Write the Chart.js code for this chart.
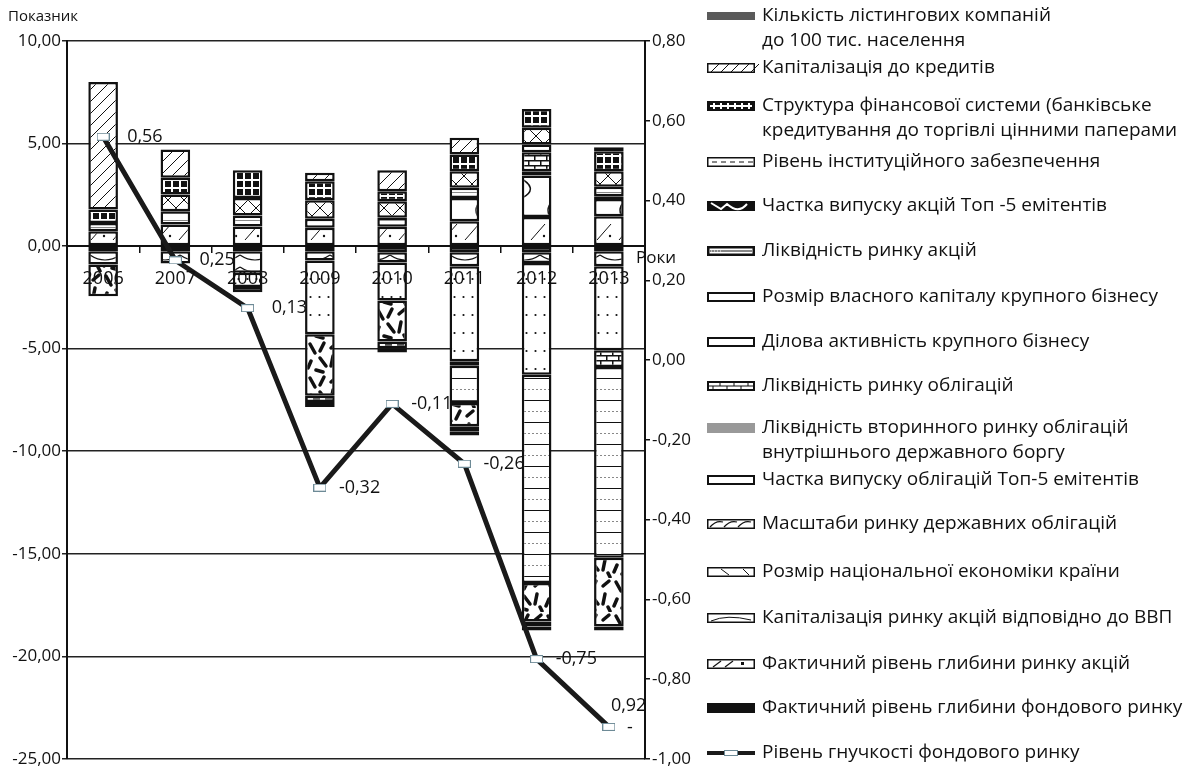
<!DOCTYPE html>
<html>
<head>
<meta charset="utf-8">
<script src="https://cdn.jsdelivr.net/npm/chart.js@4.4.1/dist/chart.umd.min.js"></script>
<style>
  html, body { margin: 0; padding: 0; background: #fff; }
  canvas { display: block; }
</style>
</head>
<body>
<canvas id="chart" width="1188" height="771"></canvas>
<script>
// ---- data: years and indicator values (left axis), flexibility (right axis) ----
const years = ['2006', '2007', '2008', '2009', '2010', '2011', '2012', '2013'];

const listingPer100k    = [0, 0, -0.25, -0.25, -0.21, -0.21, -0.19, -0.19];
const capToCredit       = [6.22, 1.38, 0, 0.41, 1.03, 0.82, 0, 0.20];
const finStructure      = [0.65, 0.82, 1.35, 0.93, 0.48, 0.81, 0.92, 0.97];
const institutional     = [0, 0, 0, -0.30, -0.33, -0.24, -0.25, 0];
const top5SharesIssue   = [-1.55, 0, 0, -3.00, -2.00, -1.14, -1.87, -3.35];
const shareLiquidity    = [0, 0, 0, 0, 0, -1.82, -10.16, -9.31];
const bigBizEquity      = [0, 0.81, 0.86, 0.90, 0.81, 0.81, 0.82, 0.76];
const bigBizActivity    = [0.41, 0.65, 0.54, 0.44, 0.44, 0.49, 0.37, 0.46];
const bondLiquidity     = [0, 0, 0, 0, 0, 0, 0.93, -0.81];
const govBondSecondary  = [0, 0, 0, 0, 0, -0.21, 0.21, 0.13];
const top5BondsIssue    = [0, 0, -0.70, -3.60, -1.85, -4.64, -5.45, -4.10];
const govBondScale      = [0, 0, 0, 0, 0, 1.14, 2.02, 0.85];
const economySize       = [0, 0, 0, 0, 0, 0, 0, 0];
const capToGdp          = [-0.65, -0.60, -1.05, -0.45, -0.50, -0.68, -0.52, -0.73];
const shareDepth        = [0.72, 1.05, 0.95, 0.89, 0.94, 1.21, 1.42, 1.45];
const marketDepth       = [-0.25, -0.25, -0.25, -0.25, -0.30, -0.30, -0.30, -0.25];
const flexibility       = [0.56, 0.25, 0.13, -0.32, -0.11, -0.26, -0.75, -0.92];

const leftAxis  = { min: -25, max: 10, step: 5 };
const rightAxis = { min: -1, max: 0.8, step: 0.2 };

// ---- look ----
const FONT = '"Open Sans", "Noto Sans", sans-serif';
const INK = '#111';
const fmt = v => (Math.abs(v) < 1e-9 ? 0 : v).toFixed(2).replace('.', ',');

function line(g, x1, y1, x2, y2) { g.beginPath(); g.moveTo(x1, y1); g.lineTo(x2, y2); g.stroke(); }
function dot(g, x, y, r) { g.beginPath(); g.arc(x, y, r, 0, Math.PI * 2); g.fill(); }

// repeating fill tiles for the bar segments
function tile(w, h, paint) {
  const c = document.createElement('canvas');
  c.width = w; c.height = h;
  const g = c.getContext('2d');
  g.fillStyle = '#fff'; g.fillRect(0, 0, w, h);
  g.strokeStyle = INK; g.fillStyle = INK;
  paint(g, w, h);
  return g.createPattern(c, 'repeat');
}

const FILL = {
  darkGray: '#3c3c3c',
  black: '#111',
  white: '#fff',
  hatch: tile(12, 12, g => { g.lineWidth = 1; line(g, -1, 13, 13, -1); line(g, -1, 1, 1, -1); line(g, 11, 13, 13, 11); }),
  grid: tile(8, 8, g => { g.fillRect(0, 0, 8, 8); g.fillStyle = '#fff'; g.fillRect(0, 3, 8, 2); g.fillRect(3, 0, 2, 8); }),
  dashes: tile(12, 6, g => { g.lineWidth = 1.5; line(g, 1, 3, 8, 3); }),
  confetti: tile(34, 34, g => {
    g.lineWidth = 3.5; g.lineCap = 'round';
    [[4, 4, 9, 13], [18, 3, 14, 11], [25, 8, 31, 3], [5, 21, 2, 28], [14, 18, 20, 26],
     [27, 16, 25, 26], [10, 30, 17, 32], [30, 29, 32, 33]].forEach(s => line(g, ...s));
  }),
  rules: tile(24, 22, g => {
    g.lineWidth = 1; line(g, 0, 4.5, 24, 4.5);
    g.strokeStyle = '#888'; g.setLineDash([2, 2]); line(g, 0, 15.5, 24, 15.5);
  }),
  xhatch: tile(16, 16, g => { g.lineWidth = 1; line(g, 0, 0, 16, 16); line(g, 16, 0, 0, 16); }),
  thinRule: tile(4, 7, g => { g.strokeStyle = '#888'; g.lineWidth = 1; line(g, 0, 3.5, 4, 3.5); }),
  brick: tile(12, 10, g => {
    g.lineWidth = 1.5; line(g, 0, 0.75, 12, 0.75); line(g, 0, 5.75, 12, 5.75);
    line(g, 0.75, 0, 0.75, 5); line(g, 6.75, 5, 6.75, 10);
  }),
  dots: tile(9, 18, g => dot(g, 4.5, 9, 1.1)),
  wave: tile(36, 44, g => {
    g.lineWidth = 1.5; g.beginPath(); g.moveTo(12, 0);
    g.bezierCurveTo(30, 8, 30, 16, 18, 22); g.bezierCurveTo(6, 28, 6, 36, 12, 44); g.stroke();
  }),
  sparseDiag: tile(16, 16, g => { g.lineWidth = 1; line(g, 0, 0, 16, 16); }),
  curves: tile(30, 12, g => {
    g.lineWidth = 1.2; g.beginPath(); g.moveTo(0, 3); g.quadraticCurveTo(15, 13, 30, 3); g.stroke();
  }),
  diagDot: tile(22, 22, g => { g.lineWidth = 1; line(g, 3, 20, 17, 4); dot(g, 16, 16, 1.2); })
};

// ---- legend swatches ----
function box(g, x, y, w, h, lw) {
  g.fillStyle = '#fff'; g.fillRect(x, y, w, h);
  g.lineWidth = lw; g.strokeStyle = INK; g.strokeRect(x + lw / 2, y + lw / 2, w - lw, h - lw);
}
const ICON = {
  solidGray: (g, x, y, w, h) => { g.fillStyle = '#5a5a5a'; g.fillRect(x, y + 1, w, h - 2); },
  solidBlack: (g, x, y, w, h) => { g.fillStyle = INK; g.fillRect(x, y, w, h); },
  solidLight: (g, x, y, w, h) => { g.fillStyle = '#999'; g.fillRect(x, y, w, h); },
  hatch: (g, x, y, w, h) => {
    box(g, x, y, w, h, 1.5); g.lineWidth = 1;
    for (let i = 4; i < w; i += 10) line(g, x + i, y + h - 1, x + i + h - 2, y + 1);
  },
  plus: (g, x, y, w, h) => {
    g.fillStyle = INK; g.fillRect(x, y, w, h); g.fillStyle = '#fff';
    g.fillRect(x + 3, y + h / 2 - 1, w - 6, 2);
    for (let i = 6; i < w - 2; i += 7) g.fillRect(x + i, y + 2, 2, h - 4);
  },
  dashes: (g, x, y, w, h) => {
    box(g, x, y, w, h, 1.5); g.lineWidth = 1;
    for (let i = 5; i < w - 6; i += 9) line(g, x + i, y + h / 2, x + i + 5, y + h / 2);
  },
  blackWave: (g, x, y, w, h) => {
    g.fillStyle = INK; g.fillRect(x, y, w, h); g.strokeStyle = '#fff'; g.lineWidth = 2;
    g.beginPath(); g.moveTo(x + 4, y + 2); g.lineTo(x + 14, y + h - 2); g.lineTo(x + 20, y + 3);
    g.bezierCurveTo(x + 28, y + h, x + 34, y + h, x + 40, y + 3); g.stroke();
  },
  rules: (g, x, y, w, h) => {
    box(g, x, y, w, h, 2.5); g.lineWidth = 1; line(g, x + 3, y + h / 2, x + w - 3, y + h / 2);
    g.strokeStyle = '#fff'; g.setLineDash([1, 2]); line(g, x + 4, y + h / 2, x + 16, y + h / 2); g.setLineDash([]);
  },
  plain: (g, x, y, w, h) => box(g, x, y, w, h, 2),
  brick: (g, x, y, w, h) => {
    box(g, x, y, w, h, 2); g.lineWidth = 1; line(g, x + 2, y + h / 2, x + w - 2, y + h / 2);
    for (let i = 6; i < w - 2; i += 7) line(g, x + i, y + (i % 2 ? 2 : h / 2), x + i, y + (i % 2 ? h / 2 : h - 2));
  },
  waves: (g, x, y, w, h) => {
    box(g, x, y, w, h, 1.5); g.lineWidth = 1.2;
    for (let i = 3; i < w - 8; i += 14) {
      g.beginPath(); g.moveTo(x + i, y + h - 2); g.quadraticCurveTo(x + i + 6, y + 1, x + i + 13, y + 3); g.stroke();
    }
  },
  backslash: (g, x, y, w, h) => {
    box(g, x, y, w, h, 1.5); g.lineWidth = 1;
    line(g, x + 14, y + 2, x + 22, y + h - 2); line(g, x + 36, y + 2, x + 42, y + h - 2);
  },
  arc: (g, x, y, w, h) => {
    box(g, x, y, w, h, 1.5); g.lineWidth = 1;
    g.beginPath(); g.moveTo(x + 4, y + h - 2); g.quadraticCurveTo(x + 20, y + 1, x + w - 4, y + h - 3); g.stroke();
  },
  slashDot: (g, x, y, w, h) => {
    box(g, x, y, w, h, 1.5); g.lineWidth = 1.2;
    line(g, x + 6, y + h - 2, x + 14, y + 2); line(g, x + 18, y + h - 2, x + 26, y + 2);
    g.fillStyle = INK; g.fillRect(x + 34, y + 3, 3, 3);
  },
  marker: (g, x, y, w, h) => {
    g.strokeStyle = '#1a1a1a'; g.lineWidth = 4; line(g, x, y + h / 2, x + w, y + h / 2);
    g.fillStyle = '#fff'; g.fillRect(x + 17, y + 2, 14, 6);
    g.strokeStyle = '#6d8a96'; g.lineWidth = 1; g.strokeRect(x + 17.5, y + 2.5, 13, 5);
  }
};

// bar series in stacking order (nearest the zero line first)
const barSeries = [
  { data: marketDepth,      fill: FILL.black,      icon: 'solidBlack', text: ['Фактичний рівень глибини фондового ринку'] },
  { data: shareDepth,       fill: FILL.diagDot,    icon: 'slashDot',   text: ['Фактичний рівень глибини ринку акцій'] },
  { data: capToGdp,         fill: FILL.curves,     icon: 'arc',        text: ['Капіталізація ринку акцій відповідно до ВВП'] },
  { data: economySize,      fill: FILL.sparseDiag, icon: 'backslash',  text: ['Розмір національної економіки країни'] },
  { data: govBondScale,     fill: FILL.wave,       icon: 'waves',      text: ['Масштаби ринку державних облігацій'] },
  { data: top5BondsIssue,   fill: FILL.dots,       icon: 'plain',      text: ['Частка випуску облігацій Топ-5 емітентів'] },
  { data: govBondSecondary, fill: FILL.white,      icon: 'solidLight', text: ['Ліквідність вторинного ринку облігацій', 'внутрішнього державного боргу'] },
  { data: bondLiquidity,    fill: FILL.brick,      icon: 'brick',      text: ['Ліквідність ринку облігацій'] },
  { data: bigBizActivity,   fill: FILL.thinRule,   icon: 'plain',      text: ['Ділова активність крупного бізнесу'] },
  { data: bigBizEquity,     fill: FILL.xhatch,     icon: 'plain',      text: ['Розмір власного капіталу крупного бізнесу'] },
  { data: shareLiquidity,   fill: FILL.rules,      icon: 'rules',      text: ['Ліквідність ринку акцій'] },
  { data: top5SharesIssue,  fill: FILL.confetti,   icon: 'blackWave',  text: ['Частка випуску акцій Топ -5 емітентів'] },
  { data: institutional,    fill: FILL.dashes,     icon: 'dashes',     text: ['Рівень інституційного забезпечення'] },
  { data: finStructure,     fill: FILL.grid,       icon: 'plus',       text: ['Структура фінансової системи (банківське', 'кредитування до торгівлі цінними паперами'] },
  { data: capToCredit,      fill: FILL.hatch,      icon: 'hatch',      text: ['Капіталізація до кредитів'] },
  { data: listingPer100k,   fill: FILL.darkGray,   icon: 'solidGray',  text: ['Кількість лістингових компаній', 'до 100 тис. населення'] }
];
const flexSeries = { icon: 'marker', text: ['Рівень гнучкості фондового ринку'] };

// legend rows (top to bottom) and their vertical centres
const legendEntries = [...barSeries].reverse().concat([flexSeries]);
const legendRowY = [16, 68, 106, 162, 206, 251, 297, 342, 386, 428, 480, 524, 572, 618, 664, 708, 753];
const LEGEND = { iconX: 707, iconW: 48, iconH: 10, textX: 762, lineGap: 24.5, size: 19 };

// flexibility marker: small white rectangle
const markerImg = (() => {
  const c = document.createElement('canvas'); c.width = 13; c.height = 8;
  const g = c.getContext('2d');
  g.fillStyle = '#fff'; g.fillRect(0, 0, 13, 8);
  g.strokeStyle = '#6d8a96'; g.lineWidth = 1; g.strokeRect(0.5, 0.5, 12, 7);
  return c;
})();

const datasets = barSeries.map(s => ({
  type: 'bar',
  label: s.text.join(' '),
  data: s.data,
  yAxisID: 'y',
  backgroundColor: s.fill,
  borderColor: INK,
  borderWidth: c => (c.raw ? 2.5 : 0),
  borderSkipped: false,
  barPercentage: 0.41,
  categoryPercentage: 1
}));
datasets.push({
  type: 'line',
  label: flexSeries.text[0],
  data: flexibility,
  yAxisID: 'y2',
  order: -1,
  borderColor: '#1a1a1a',
  borderWidth: 5,
  pointStyle: markerImg,
  pointRadius: 5,
  tension: 0,
  fill: false
});
const FLEX_INDEX = datasets.length - 1;

const extras = {
  id: 'extras',
  afterDatasetsDraw(chart) {
    const g = chart.ctx, area = chart.chartArea;
    g.save();
    g.font = `18px ${FONT}`; g.fillStyle = INK; g.textAlign = 'left'; g.textBaseline = 'middle';
    // value labels beside the flexibility points
    chart.getDatasetMeta(FLEX_INDEX).data.forEach((pt, i) => {
      const v = flexibility[i], t = fmt(v);
      const dx = v < 0 ? 19 : 24;
      if (pt.x + dx + g.measureText(t).width > area.right + 8) {
        g.fillText(fmt(Math.abs(v)), pt.x + 2, pt.y - 21);
        if (v < 0) g.fillText('-', pt.x + 18, pt.y + 1);
      } else {
        g.fillText(t, pt.x + dx, pt.y);
      }
    });
    g.restore();
  },
  afterDraw(chart) {
    const g = chart.ctx, area = chart.chartArea;
    g.save();
    g.fillStyle = INK; g.textAlign = 'left'; g.textBaseline = 'middle';
    // axis captions
    const zeroY = chart.scales.y.getPixelForValue(0);
    g.font = `17px ${FONT}`;
    g.fillText('Роки', area.right - 9, zeroY + 12);
    g.font = `15px ${FONT}`;
    g.fillText('Показник', 8, 17);
    // legend
    g.font = `${LEGEND.size}px ${FONT}`;
    legendEntries.forEach((e, i) => {
      const y = legendRowY[i];
      g.save();
      ICON[e.icon](g, LEGEND.iconX, y - LEGEND.iconH / 2, LEGEND.iconW, LEGEND.iconH);
      g.restore();
      g.fillStyle = INK;
      e.text.forEach((t, k) => g.fillText(t, LEGEND.textX, y + k * LEGEND.lineGap));
    });
    g.restore();
  }
};

new Chart(document.getElementById('chart'), {
  data: { labels: years, datasets },
  plugins: [extras],
  options: {
    responsive: false,
    animation: false,
    layout: { padding: { left: 0, right: 483, top: 41, bottom: 12 } },
    plugins: { legend: { display: false }, tooltip: { enabled: false } },
    scales: {
      x: {
        type: 'category',
        position: { y: 0 },
        stacked: true,
        grid: { display: true, drawOnChartArea: false, drawTicks: true, tickLength: 6, color: INK, lineWidth: 1.5, offset: true },
        border: { display: true, color: INK, width: 2 },
        ticks: { z: 1, color: INK, font: { family: FONT, size: 18 }, padding: 16, autoSkip: false, maxRotation: 0 }
      },
      y: {
        position: 'left',
        stacked: true,
        min: leftAxis.min, max: leftAxis.max,
        ticks: { stepSize: leftAxis.step, callback: v => fmt(v), color: INK, font: { family: FONT, size: 17 }, padding: 1 },
        grid: { color: '#222', lineWidth: 1.5, tickLength: 5 },
        border: { display: true, color: INK, width: 2 },
        afterFit: s => { s.width = 67; }
      },
      y2: {
        position: 'right',
        min: rightAxis.min, max: rightAxis.max,
        ticks: { stepSize: rightAxis.step, callback: v => fmt(v), color: INK, font: { family: FONT, size: 17 }, padding: 2 },
        grid: { drawOnChartArea: false, tickLength: 5, color: INK, lineWidth: 1.5 },
        border: { display: true, color: INK, width: 2 },
        afterFit: s => { s.width = 60; }
      }
    }
  }
});
</script>
</body>
</html>
